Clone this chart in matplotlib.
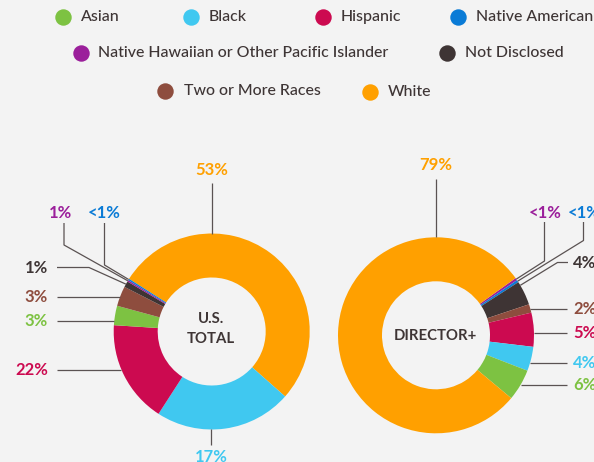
import numpy as np
import matplotlib.pyplot as plt

W, H = 594, 462
BG = '#f3f3f3'
INK = '#3e3535'
LINE = '#5a5252'

categories = ['Asian', 'Black', 'Hispanic', 'Native American',
              'Native Hawaiian or Other Pacific Islander', 'Not Disclosed',
              'Two or More Races', 'White']
colors = ['#7dc242', '#40c8f0', '#cc0a50', '#0a7bd6',
          '#9b1f9b', '#3e3434', '#8e4d3e', '#ffa000']
label_colors = dict(zip(categories, colors))
label_colors['Not Disclosed'] = INK

# U.S. total, clockwise from the start of the White slice
us_order = ['White', 'Black', 'Hispanic', 'Asian', 'Two or More Races',
            'Not Disclosed', 'Native Hawaiian or Other Pacific Islander', 'Native American']
us_share = [52.5, 22.6, 16.9, 3.2, 3.3, 1.0, 0.25, 0.25]
us_labels = ['53%', '17%', '22%', '3%', '3%', '1%', '1%', '<1%']

# Director+, clockwise from the end of the White slice
dir_order = ['Native Hawaiian or Other Pacific Islander', 'Native American', 'Not Disclosed',
             'Two or More Races', 'Hispanic', 'Black', 'Asian', 'White']
dir_share = [0.4, 0.4, 4.0, 1.4, 5.6, 4.0, 5.2, 79.0]
dir_labels = ['<1%', '<1%', '4%', '2%', '5%', '4%', '6%', '79%']


def img(x, y):
    # picture pixel coords (y down) -> axes data coords (y up)
    return x, H - y


# layout in picture pixels: label position, alignment, leader line
us_layout = {
    'White': ((212, 170), 'center', ('v', (212, 183))),
    'Black': ((211, 457), 'center', ('v', (211, 445))),
    'Hispanic': ((48, 370), 'right', ('h', (57, 369.5))),
    'Asian': ((48, 321.5), 'right', ('h', (57, 321))),
    'Two or More Races': ((48, 297.5), 'right', ('h', (57, 297))),
    'Not Disclosed': ((48, 268), 'right', ('e', (57, 267.5), (89, 267.5))),
    'Native Hawaiian or Other Pacific Islander': ((60, 213), 'center', ('e', (64, 223), (64, 245))),
    'Native American': ((104.5, 213), 'center', ('e', (104.5, 223), (104.5, 265))),
}
dir_layout = {
    'White': ((436, 165.5), 'center', ('v', (436, 178.5))),
    'Native Hawaiian or Other Pacific Islander': ((545, 213), 'center', ('e', (544.5, 222), (544.5, 261))),
    'Native American': ((584, 213), 'center', ('e', (583.5, 222), (583.5, 240.5))),
    'Not Disclosed': ((573, 263.5), 'left', ('e', (568, 262.5), (557.5, 262.5), 0.15)),
    'Two or More Races': ((573, 308.5), 'left', ('h', (567, 308.5))),
    'Hispanic': ((573, 333), 'left', ('h', (567, 333))),
    'Black': ((573, 363), 'left', ('h', (567, 362.5))),
    'Asian': ((573, 384.5), 'left', ('h', (567, 384.5))),
}

# legend: category index, marker x, y, text x (picture pixels)
legend_layout = [(0, 62.5, 16.7, 80.5), (1, 191, 16.7, 209), (2, 323, 16.7, 341),
                 (3, 458.3, 16.7, 476.5), (4, 81, 53.3, 98.3), (5, 447, 53.3, 465),
                 (6, 165, 90.7, 184), (7, 369.5, 92.3, 387.5)]

R_OUT, RING = 98, 44

plt.rcParams['font.family'] = ['Lato', 'DejaVu Sans']
fig = plt.figure(figsize=(W / 100, H / 100), dpi=100, facecolor=BG)
ax = fig.add_axes([0, 0, 1, 1])
ax.set_facecolor(BG)


def donut(center_px, order, share, labels, start, layout, title):
    cx, cy = img(*center_px)
    cols = [colors[categories.index(c)] for c in order]
    wedges, _ = ax.pie(share, colors=cols, startangle=start, counterclock=False,
                       radius=R_OUT, center=(cx, cy), frame=True,
                       wedgeprops=dict(width=RING, linewidth=0))
    for cat, lab, w in zip(order, labels, wedges):
        pos, ha, lead = layout[cat]
        tx, ty = img(*pos)
        ax.text(tx, ty, lab, ha=ha, va='center', fontsize=12, fontweight='bold',
                color=label_colors[cat])
        kind = lead[0]
        sx, sy = img(*lead[1])
        if kind == 'v':
            dy = np.sqrt(R_OUT ** 2 - (sx - cx) ** 2)
            ex, ey = sx, cy + dy if sy > cy else cy - dy
            pts = [(sx, sy), (ex, ey)]
        elif kind == 'h':
            dx = np.sqrt(R_OUT ** 2 - (sy - cy) ** 2)
            ex, ey = cx + dx if sx > cx else cx - dx, sy
            pts = [(sx, sy), (ex, ey)]
        else:
            frac = lead[3] if len(lead) > 3 else 0.5
            ang = np.radians(w.theta2 - frac * (w.theta2 - w.theta1))
            ex, ey = cx + R_OUT * np.cos(ang), cy + R_OUT * np.sin(ang)
            pts = [(sx, sy), img(*lead[2]), (ex, ey)]
        xs, ys = zip(*pts)
        ax.plot(xs, ys, color=LINE, lw=0.9, solid_capstyle='butt')
    for line in title:
        tx, ty = img(center_px[0] - 0.5, line[1])
        ax.text(tx, ty, line[0], ha='center', va='center', fontsize=10.7,
                fontweight='bold', color=INK)


donut((211.7, 331.5), us_order, us_share, us_labels, 147.5, us_layout,
      [('U.S.', 319), ('TOTAL', 339)])
donut((436, 335.3), dir_order, dir_share, dir_labels, 35.7, dir_layout,
      [('DIRECTOR+', 336)])

for idx, mx, my, tx in legend_layout:
    x, y = img(mx, my)
    ax.scatter([x], [y], s=140, color=colors[idx], linewidths=0, zorder=3)
    x, y = img(tx, my)
    ax.text(x, y, categories[idx], ha='left', va='center', fontsize=11.4,
            fontweight='medium', color=INK)

ax.set_xlim(0, W)
ax.set_ylim(0, H)
ax.set_aspect('equal')
ax.axis('off')
fig.savefig('out.png', dpi=100, facecolor=BG)
